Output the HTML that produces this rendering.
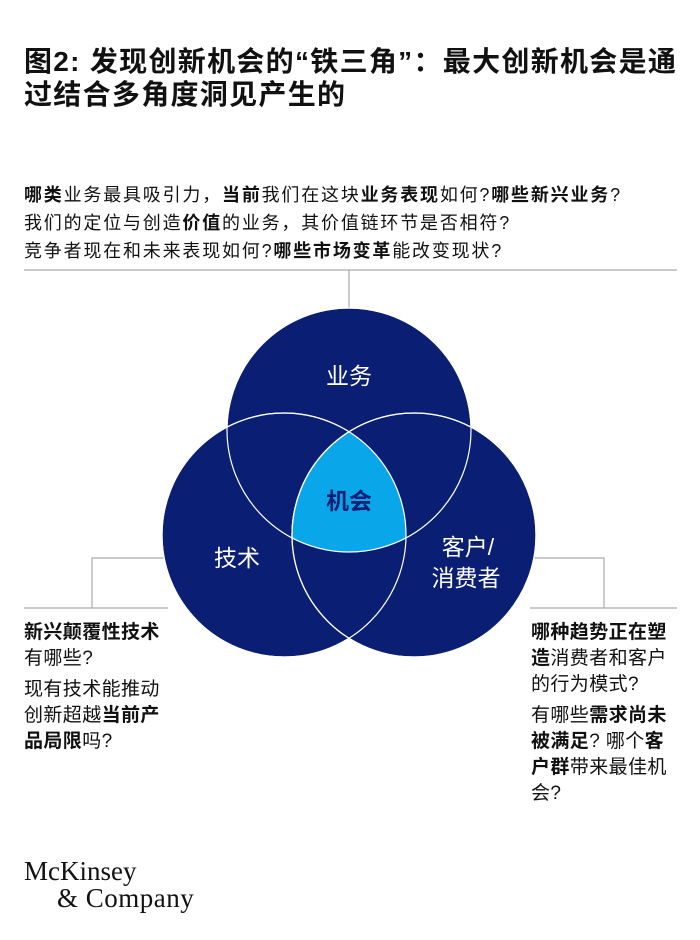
<!DOCTYPE html>
<html><head><meta charset="utf-8"><style>
body{margin:0;width:700px;height:940px;background:#fff;position:relative;overflow:hidden;font-family:"Liberation Sans","Noto Sans CJK SC",sans-serif;color:#111}
.a{position:absolute;white-space:nowrap}
b{font-weight:bold}
.t{font-size:28px;font-weight:bold;letter-spacing:1.3px;left:24px}
.q{font-size:18px;left:24px;letter-spacing:1.8px}
.s{font-size:19px;line-height:26px;letter-spacing:0.4px}
</style></head><body>
<div class="a t" style="top:40px">图2: 发现创新机会的“铁三角”：最大创新机会是通</div>
<div class="a t" style="top:73px">过结合多角度洞见产生的</div>
<div class="a q" style="top:181px"><b>哪类</b>业务最具吸引力，<b>当前</b>我们在这块<b>业务表现</b>如何?<b>哪些新兴业务</b>?</div>
<div class="a q" style="top:209px">我们的定位与创造<b>价值</b>的业务，其价值链环节是否相符?</div>
<div class="a q" style="top:237px">竞争者现在和未来表现如何?<b>哪些市场变革</b>能改变现状?</div>
<svg class="a" style="left:0;top:0" width="700" height="940">
<defs>
<clipPath id="c1"><circle cx="349" cy="430" r="122"/></clipPath>
<clipPath id="c2"><circle cx="284" cy="535" r="122"/></clipPath>
</defs>
<g stroke="#aaa" stroke-width="1.2" fill="none">
<line x1="24" y1="270" x2="677" y2="270"/><line x1="349" y1="270" x2="349" y2="320"/>
<polyline points="180,558 92,558 92,608"/><line x1="24" y1="608" x2="168" y2="608"/>
<polyline points="520,558 604,558 604,608"/><line x1="530" y1="608" x2="677" y2="608"/>
</g>
<g fill="#0a1f73" stroke="#fff" stroke-width="1.2">
<circle cx="349" cy="430" r="122"/>
<circle cx="284" cy="535" r="122"/>
<circle cx="414" cy="535" r="122"/>
</g>
<g clip-path="url(#c1)"><g clip-path="url(#c2)"><circle cx="414" cy="535" r="122" fill="#0aa6ea" stroke="#fff" stroke-width="1.2"/></g></g>
<g fill="none" stroke="#fff" stroke-width="1.2">
<circle cx="349" cy="430" r="122"/><circle cx="284" cy="535" r="122"/><circle cx="414" cy="535" r="122"/>
</g>
<g font-family="Liberation Sans,Noto Sans CJK SC,sans-serif" fill="#fff" font-size="23" text-anchor="middle">
<text x="349" y="384">业务</text>
<text x="349" y="509" font-weight="bold" fill="#0a1f73">机会</text>
<text x="237" y="566">技术</text>
<text x="468" y="555">客户/</text>
<text x="466" y="586">消费者</text>
</g>
</svg>
<div class="a s" style="left:24px;top:620px"><b>新兴颠覆性技术</b><br>有哪些?</div>
<div class="a s" style="left:24px;top:677px">现有技术能推动<br>创新超越<b>当前产</b><br><b>品局限</b>吗?</div>
<div class="a s" style="left:531px;top:620px"><b>哪种趋势正在塑</b><br><b>造</b>消费者和客户<br>的行为模式?</div>
<div class="a s" style="left:531px;top:703px">有哪些<b>需求尚未</b><br><b>被满足</b>? 哪个<b>客</b><br><b>户群</b>带来最佳机<br>会?</div>
<div class="a" style="left:24px;top:856px;font-family:'Liberation Serif',serif;font-size:27px;color:#111;letter-spacing:0px">McKinsey</div>
<div class="a" style="left:57px;top:883px;font-family:'Liberation Serif',serif;font-size:27px;color:#111;letter-spacing:0.5px">&amp; Company</div>
</body></html>
